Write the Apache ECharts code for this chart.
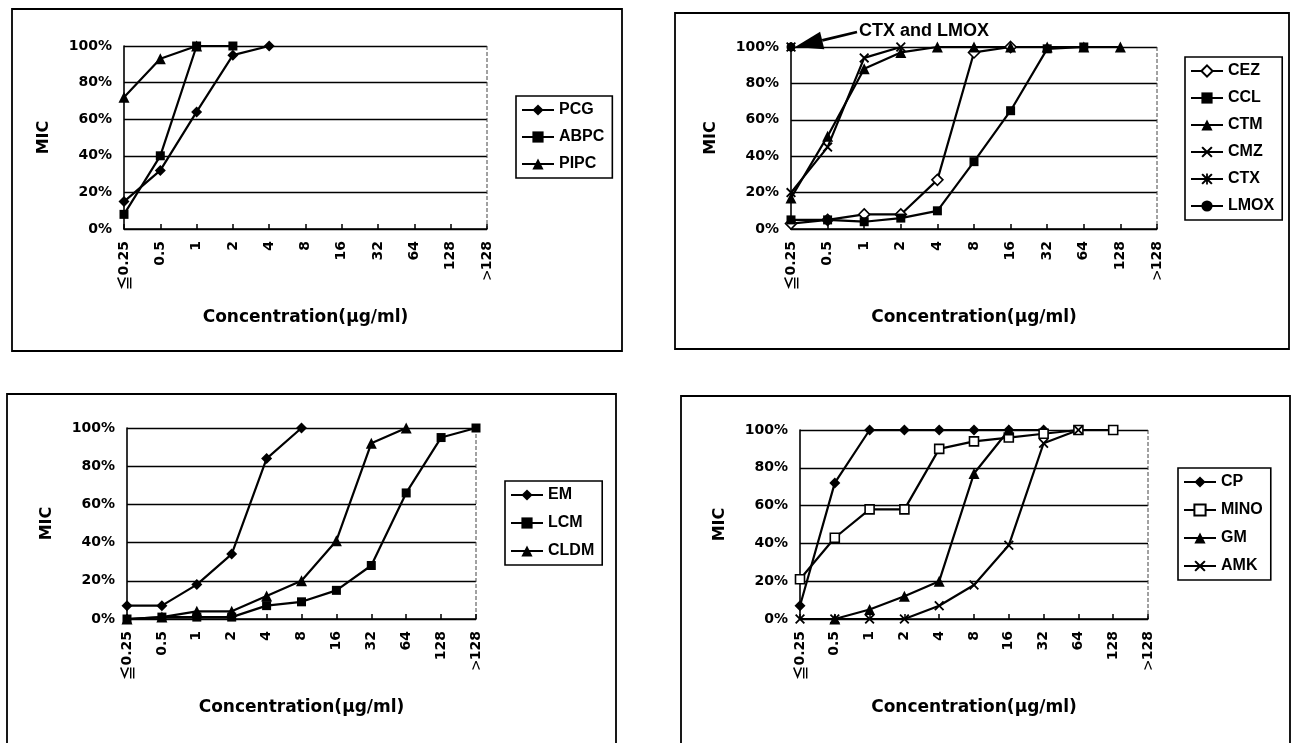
<!DOCTYPE html>
<html>
<head>
<meta charset="utf-8">
<script src="https://cdn.jsdelivr.net/npm/echarts@6/dist/echarts.min.js"></script>
<style>html,body{margin:0;padding:0;background:#fff}#c{width:1292px;height:743px}</style>
</head>
<body>
<div id="c"></div>
<script>
// ---------- DATA ----------
const categories = ['≦0.25', '0.5', '1', '2', '4', '8', '16', '32', '64', '128', '>128'];
const yTickStep = 20;

// Panel 1 (penicillins)
const PCG  = [15, 32, 64, 95, 100];
const ABPC = [8, 40, 100, 100];
const PIPC = [72, 93, 100];

// Panel 2 (cephems)
const CEZ  = [3, 5, 8, 8, 27, 97, 100];
const CCL  = [5, 5, 4, 6, 10, 37, 65, 99, 100];
const CTM  = [17, 51, 88, 97, 100, 100, 100, 100, 100, 100];
const CMZ  = [20, 45, 94, 100];
const CTX  = [100];
const LMOX = [100];

// Panel 3 (macrolides / lincosamides)
const EM   = [7, 7, 18, 34, 84, 100];
const LCM  = [0, 1, 1, 1, 7, 9, 15, 28, 66, 95, 100];
const CLDM = [0, 1, 4, 4, 12, 20, 41, 92, 100];

// Panel 4 (others)
const CP   = [7, 72, 100, 100, 100, 100, 100, 100];
const MINO = [21, 43, 58, 58, 90, 94, 96, 98, 100, 100];
const GM   = [null, 0, 5, 12, 20, 77, 100];
const AMK  = [0, 0, 0, 0, 7, 18, 39, 93, 100];

const annotationText = 'CTX and LMOX';

// ---------- STYLE ----------
const FONT = "'DejaVu Sans', sans-serif";
const NARROW = "'Liberation Sans Narrow', 'Liberation Sans', Arial, sans-serif";
const SYM_X = 'path://M0,1.3L1.3,0L5,3.7L8.7,0L10,1.3L6.3,5L10,8.7L8.7,10L5,6.3L1.3,10L0,8.7L3.7,5Z';
const SYM_STAR = 'path://M0,1.3L1.3,0L5,3.7L8.7,0L10,1.3L6.3,5L10,8.7L8.7,10L5,6.3L1.3,10L0,8.7L3.7,5Z M4.2,0L5.8,0L5.8,10L4.2,10Z';

const grids = [
  {left: 124, top: 46,  width: 363, height: 183},
  {left: 791, top: 47,  width: 366, height: 182},
  {left: 127, top: 428, width: 349, height: 191},
  {left: 800, top: 430, width: 348, height: 189}
];
const legendPos = [
  {left: 516,  top: 96},
  {left: 1185, top: 57},
  {left: 505,  top: 481},
  {left: 1178, top: 468}
];
const legendGap = [11, 11, 12, 12];

function mk(name, data, idx, sym, size, open) {
  return {
    name: name, type: 'line', xAxisIndex: idx, yAxisIndex: idx, data: data,
    symbol: sym, symbolSize: size, showSymbol: true, clip: false,
    lineStyle: {color: '#000', width: 2.2},
    itemStyle: open ? {color: '#fff', borderColor: '#000', borderWidth: 1.6} : {color: '#000'},
    emphasis: {disabled: true}, animation: false, z: 3
  };
}

const series = [
  mk('PCG', PCG, 0, 'diamond', 11),
  mk('ABPC', ABPC, 0, 'rect', 9),
  mk('PIPC', PIPC, 0, 'triangle', 11),
  mk('CEZ', CEZ, 1, 'diamond', 11, true),
  mk('CCL', CCL, 1, 'rect', 9),
  mk('CTM', CTM, 1, 'triangle', 11),
  mk('CMZ', CMZ, 1, SYM_X, 10),
  mk('CTX', CTX, 1, SYM_STAR, 10),
  mk('LMOX', LMOX, 1, 'circle', 9),
  mk('EM', EM, 2, 'diamond', 11),
  mk('LCM', LCM, 2, 'rect', 9),
  mk('CLDM', CLDM, 2, 'triangle', 11),
  mk('CP', CP, 3, 'diamond', 11),
  mk('MINO', MINO, 3, 'rect', 9, true),
  mk('GM', GM, 3, 'triangle', 11),
  mk('AMK', AMK, 3, SYM_X, 10)
];
const legendGroups = [
  ['PCG', 'ABPC', 'PIPC'],
  ['CEZ', 'CCL', 'CTM', 'CMZ', 'CTX', 'LMOX'],
  ['EM', 'LCM', 'CLDM'],
  ['CP', 'MINO', 'GM', 'AMK']
];

function catLabel(v) {
  const c = v.charAt(0);
  if (c === '≦') return '{s|' + c + '}' + v.slice(1);
  if (c === '>') return '{g|' + c + '}' + v.slice(1);
  return v;
}

const xAxes = grids.map((g, i) => ({
  type: 'category', gridIndex: i, data: categories, boundaryGap: false,
  axisLine: {show: true, lineStyle: {color: '#000', width: 1.6}},
  axisTick: {show: true, inside: true, length: 5, interval: 0, lineStyle: {color: '#000', width: 1.5}},
  axisLabel: {rotate: 90, interval: 0, margin: 12, color: '#000', fontSize: 14, fontWeight: 'bold', fontFamily: FONT,
    formatter: catLabel,
    rich: {
      s: {fontFamily: "'Noto Sans CJK JP', sans-serif", fontWeight: 'bold', fontSize: 15, color: '#000'},
      g: {fontFamily: "'Noto Sans CJK JP', sans-serif", fontWeight: 'normal', fontSize: 18, color: '#000'}
    }},
  splitLine: {show: false},
  name: 'Concentration(μg/ml)', nameLocation: 'middle', nameGap: 80,
  nameTextStyle: {color: '#000', fontSize: 17, fontWeight: 'bold', fontFamily: FONT}
}));
const yAxes = grids.map((g, i) => ({
  type: 'value', gridIndex: i, min: 0, max: 100, interval: yTickStep,
  axisLine: {show: true, lineStyle: {color: '#000', width: 1.6}},
  axisTick: {show: false},
  axisLabel: {formatter: '{value}%', margin: 12, color: '#000', fontSize: 14, fontWeight: 'bold', fontFamily: FONT},
  splitLine: {show: true, lineStyle: {color: '#000', width: 1.4}},
  name: 'MIC', nameLocation: 'middle', nameRotate: 90, nameGap: 72,
  nameTextStyle: {color: '#000', fontSize: 16, fontWeight: 'bold', fontFamily: FONT}
}));

const legends = legendGroups.map((names, i) => ({
  data: names, orient: 'vertical', left: legendPos[i].left, top: legendPos[i].top,
  borderColor: '#000', borderWidth: 1.6, padding: [6, 8, 6, 5], itemGap: legendGap[i],
  itemWidth: 32, itemHeight: 14, selectedMode: false,
  textStyle: {color: '#000', fontSize: 16, fontWeight: 'bold', fontFamily: NARROW}
}));

const chart = echarts.init(document.getElementById('c'));
chart.setOption({
  backgroundColor: '#fff',
  animation: false,
  grid: grids.map(g => Object.assign({outerBoundsMode: 'none', show: false}, g)),
  xAxis: xAxes,
  yAxis: yAxes,
  legend: legends,
  series: series
});

// ---------- decorations (panel frames, plot border, annotation) ----------
const boxes = [
  [12, 9, 610, 342],
  [675, 13, 614, 336],
  [7, 394, 609, 360],
  [681, 396, 609, 360]
];
const graphics = boxes.map(b => ({
  type: 'rect', shape: {x: b[0], y: b[1], width: b[2], height: b[3]},
  style: {fill: 'none', stroke: '#000', lineWidth: 1.8}, silent: true
}));
grids.forEach(g => {
  const x = g.left + g.width;
  graphics.push({type: 'line', shape: {x1: x, y1: g.top, x2: x, y2: g.top + g.height},
    style: {stroke: '#444', lineWidth: 1, lineDash: [4, 2]}, silent: true});
});
const tip = chart.convertToPixel({xAxisIndex: 1, yAxisIndex: 1}, [0, 100]);
const tipX = tip[0] + 4, tipY = tip[1];
const startX = tipX + 62, startY = tipY - 15;
const dx = startX - tipX, dy = startY - tipY, len = Math.hypot(dx, dy);
const ux = dx / len, uy = dy / len;
const headLen = 28, headW = 9;
const bx = tipX + ux * headLen, by = tipY + uy * headLen;
graphics.push({type: 'line', shape: {x1: startX, y1: startY, x2: bx, y2: by},
  style: {stroke: '#000', lineWidth: 2.8}, silent: true});
graphics.push({type: 'polygon', shape: {points: [[tipX, tipY], [bx - uy * headW, by + ux * headW], [bx + uy * headW, by - ux * headW]]},
  style: {fill: '#000'}, silent: true});
graphics.push({type: 'text', x: startX + 2, y: startY - 1,
  style: {text: annotationText, fill: '#000', font: 'bold 18px ' + NARROW, textAlign: 'left', textVerticalAlign: 'middle'}, silent: true});
chart.setOption({graphic: graphics});
</script>
</body>
</html>
